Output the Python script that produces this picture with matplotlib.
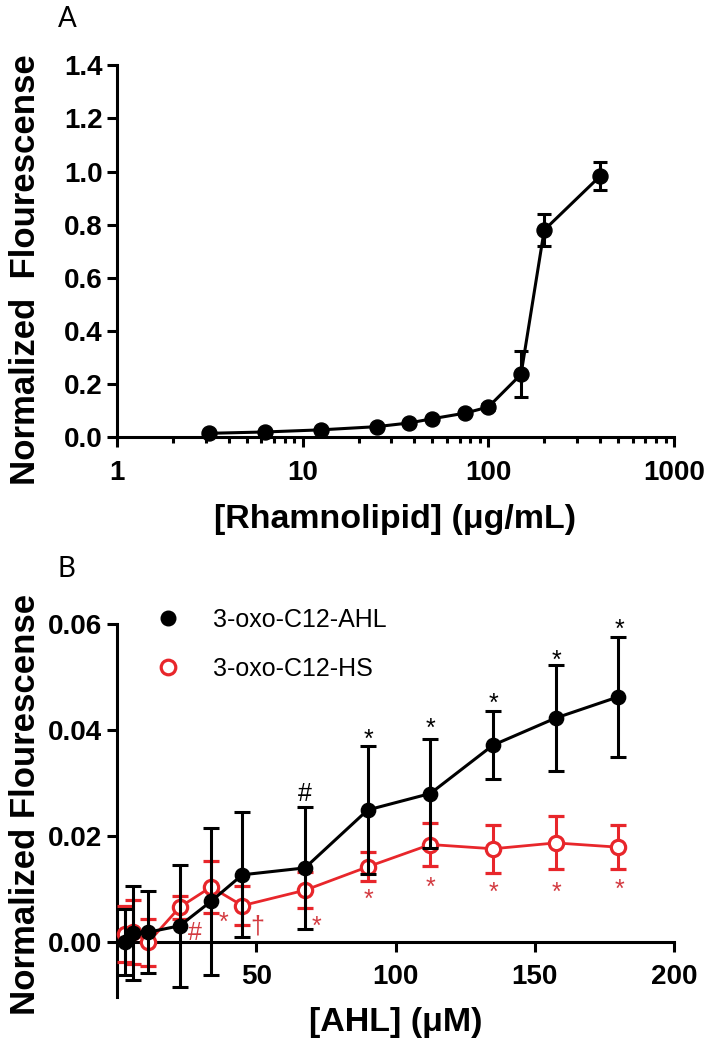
import matplotlib
matplotlib.use("Agg")
import matplotlib.pyplot as plt
from matplotlib.lines import Line2D
from matplotlib.ticker import LogLocator, NullFormatter, FixedLocator

# ---------------- Data ----------------
# Panel A
rham_conc = [3.125, 6.25, 12.5, 25, 37.5, 50, 75, 100, 150, 200, 400]
rham_fluor = [0.015, 0.020, 0.028, 0.040, 0.054, 0.070, 0.091, 0.114, 0.237, 0.780, 0.983]
rham_err = [0.005, 0.005, 0.005, 0.006, 0.006, 0.006, 0.008, 0.010, 0.086, 0.059, 0.052]

# Panel B
ahl_conc = [2.8, 5.6, 11.25, 22.5, 33.75, 45, 67.5, 90, 112.5, 135, 157.5, 180]
ahl_fluor = [0.0000, 0.0017, 0.0019, 0.0031, 0.0077, 0.0127, 0.0140, 0.0249, 0.0280, 0.0371, 0.0422, 0.0462]
ahl_err = [0.0062, 0.0088, 0.0077, 0.0115, 0.0139, 0.0118, 0.0115, 0.0120, 0.0103, 0.0064, 0.0099, 0.0113]
hs_fluor = [0.0016, 0.0020, 0.0000, 0.0066, 0.0104, 0.0069, 0.0098, 0.0142, 0.0184, 0.0176, 0.0187, 0.0179]
hs_err = [0.0053, 0.0060, 0.0044, 0.0022, 0.0049, 0.0036, 0.0034, 0.0027, 0.0040, 0.0045, 0.0050, 0.0042]

series_labels = ["3-oxo-C12-AHL", "3-oxo-C12-HS"]

# significance marks (text, x, y)
black_marks = ["#", "*", "*", "*", "*", "*"]
black_marks_x = [67.6, 90.2, 112.6, 135.1, 157.7, 180.3]
black_marks_y = [0.0283, 0.0396, 0.0416, 0.0462, 0.0544, 0.0602]
red_marks = ["#", "*", "\u2020", "*", "*", "*", "*", "*", "*"]
red_marks_x = [28.0, 38.2, 50.2, 71.8, 90.4, 112.6, 135.1, 157.7, 180.3]
red_marks_y = [0.0021, 0.0050, 0.0031, 0.0044, 0.0094, 0.0116, 0.0107, 0.0107, 0.0113]

xticks_a = [1, 10, 100, 1000]
yticks_a = [0.0, 0.2, 0.4, 0.6, 0.8, 1.0, 1.2, 1.4]
xticks_b = [50, 100, 150, 200]
yticks_b = [0.00, 0.02, 0.04, 0.06]

# ---------------- Style ----------------
FONT = ["Liberation Sans", "DejaVu Sans"]
plt.rcParams["font.family"] = FONT
RED = "#e8262b"
RED_TXT = "#d33a40"
LW = 2.2
W, H = 712, 1050

fig = plt.figure(figsize=(W / 100, H / 100), dpi=100)


def px_axes(l, r, t, b):
    return [l / W, 1 - b / H, (r - l) / W, (b - t) / H]


def style_axes(ax):
    for s in ["top", "right"]:
        ax.spines[s].set_visible(False)
    for s in ["left", "bottom"]:
        ax.spines[s].set_linewidth(LW)
    ax.tick_params(which="major", direction="out", length=7.5, width=LW,
                   labelsize=20)
    ax.tick_params(which="minor", direction="out", length=4, width=LW)
    for lab in ax.get_xticklabels() + ax.get_yticklabels():
        lab.set_fontweight("bold")


# ---------------- Panel A ----------------
axA = fig.add_axes(px_axes(117, 674, 65.3, 437.3))
axA.errorbar(rham_conc, rham_fluor, yerr=rham_err, fmt="o-", color="black",
             ms=10.8, lw=LW, elinewidth=LW, capsize=5, capthick=LW,
             clip_on=False, zorder=3)
axA.set_xscale("log")
axA.set_xlim(1, 1000)
axA.set_ylim(0, 1.4)
axA.xaxis.set_major_locator(FixedLocator(xticks_a))
axA.xaxis.set_minor_locator(LogLocator(base=10, subs=range(2, 10)))
axA.xaxis.set_minor_formatter(NullFormatter())
axA.set_xticklabels([str(v) for v in xticks_a])
axA.set_yticks(yticks_a)
axA.set_yticklabels([f"{v:.1f}" for v in yticks_a])
style_axes(axA)
axA.tick_params(axis="x", which="major", pad=9)
axA.tick_params(axis="y", which="major", pad=3)
axA.set_xlabel("[Rhamnolipid] (\u03bcg/mL)", fontsize=24.5, fontweight="bold")
axA.set_ylabel("Normalized  Flourescense", fontsize=25, fontweight="bold")
axA.xaxis.set_label_coords(0.5, -0.18)
axA.yaxis.set_label_coords(-0.135, 0.45)

# ---------------- Panel B ----------------
axB = fig.add_axes(px_axes(117, 674, 623.5, 997))
axB.errorbar(ahl_conc, hs_fluor, yerr=hs_err, fmt="o-", color=RED,
             ms=10.3, mfc="white", mec=RED, mew=2.3, lw=2.0, elinewidth=2.2,
             capsize=5.5, capthick=2.2, clip_on=False, zorder=3)
axB.errorbar(ahl_conc, ahl_fluor, yerr=ahl_err, fmt="o-", color="black",
             ms=10.3, lw=LW, elinewidth=LW, capsize=5.5, capthick=LW,
             clip_on=False, zorder=4)
axB.set_xlim(0, 200)
axB.set_ylim(-0.0103, 0.06)
axB.spines["bottom"].set_position(("data", 0))
axB.set_xticks(xticks_b)
axB.set_xticklabels([str(v) for v in xticks_b])
axB.set_yticks(yticks_b)
axB.set_yticklabels([f"{v:.2f}" for v in yticks_b])
style_axes(axB)
axB.tick_params(axis="x", which="major", pad=8)
axB.tick_params(axis="y", which="major", pad=3)
axB.set_xlabel("[AHL] (\u03bcM)", fontsize=24.5, fontweight="bold")
axB.set_ylabel("Normalized Flourescense", fontsize=25, fontweight="bold")
axB.xaxis.set_label_coords(0.5, -0.028)
axB.yaxis.set_label_coords(-0.135, 0.515)

# glyph visual centre above baseline (fraction of font size)
glyph_mid = {"*": 0.58, "#": 0.35, "\u2020": 0.30}
MFS = 18


def put_marks(ax, marks, xs, ys, color):
    for m, x, y in zip(marks, xs, ys):
        ax.annotate(m, (x, y), xytext=(0, -glyph_mid[m] * MFS),
                    textcoords="offset points", ha="center", va="baseline",
                    fontsize=MFS, color=color, annotation_clip=False,
                    zorder=5)


put_marks(axB, black_marks, black_marks_x, black_marks_y, "black")
put_marks(axB, red_marks, red_marks_x, red_marks_y, RED_TXT)

handles = [
    Line2D([], [], ls="none", marker="o", ms=10.5, color="black"),
    Line2D([], [], ls="none", marker="o", ms=10.5, mfc="white", mec=RED, mew=2.3),
]
fig.legend(handles, series_labels, loc="upper left",
           bbox_to_anchor=(155 / W, 1 - 608 / H), frameon=False,
           fontsize=18, handlelength=1.0, handletextpad=1.3,
           labelspacing=0.98, borderpad=0, borderaxespad=0)

# panel letters
fig.text(58 / W, 1 - 27 / H, "A", fontsize=20, family=["Lato", "DejaVu Sans"],
         ha="left", va="baseline")
fig.text(58 / W, 1 - 577 / H, "B", fontsize=20, family=["Lato", "DejaVu Sans"],
         ha="left", va="baseline")

fig.savefig("out.png", dpi=100)
